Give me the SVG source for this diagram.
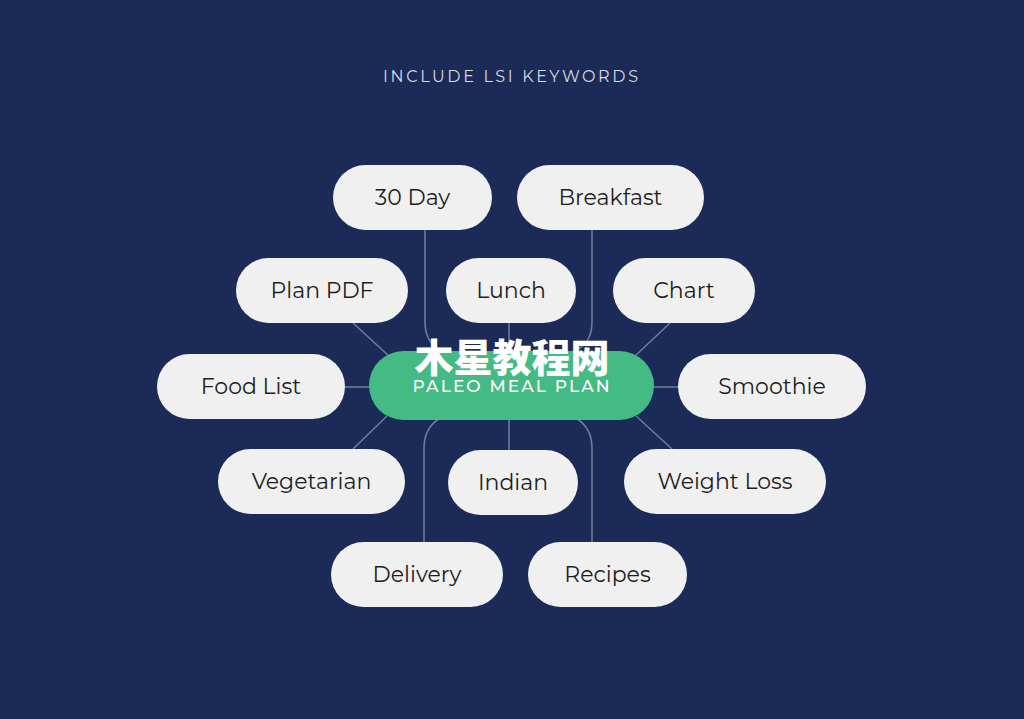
<svg xmlns="http://www.w3.org/2000/svg" width="1024" height="719" viewBox="0 0 1024 719">
<style>
.bg{fill:#1B2A56}
.pill{fill:#F0F0F0}
.lbl{font-family:"Montserrat","Open Sans","Liberation Sans",sans-serif;font-size:22px;fill:#1E1E1E;text-anchor:middle}
.con{fill:none;stroke:#6E7A96;stroke-width:1.6}
.title{font-family:"Montserrat","Open Sans","Liberation Sans",sans-serif;font-size:16px;fill:#D6DAE4;text-anchor:middle;letter-spacing:1px}
.ctext{font-family:"Montserrat","Open Sans","Liberation Sans",sans-serif;font-size:17px;font-weight:500;fill:#FFFFFF;text-anchor:middle;letter-spacing:1px}
.wm{font-family:"Noto Sans CJK SC",sans-serif;font-weight:900;font-size:39px;fill:#FFFFFF;text-anchor:middle}
</style>
<rect class="bg" x="0" y="0" width="1024" height="719"/>
<text class="title" x="511" y="82" textLength="256" lengthAdjust="spacing">INCLUDE LSI KEYWORDS</text>
<g id="connectors">
<path class="con" d="M425 230 V322 Q425 345 445 352"/>
<path class="con" d="M592 230 V322 Q592 345 572 352"/>
<path class="con" d="M509 323 V352"/>
<path class="con" d="M353 323 L390 357"/>
<path class="con" d="M670 323 L634 357"/>
<path class="con" d="M345 387 H370"/>
<path class="con" d="M653 387 H679"/>
<path class="con" d="M387 416 L353 449"/>
<path class="con" d="M636 416 L672 449"/>
<path class="con" d="M509 418 V451"/>
<path class="con" d="M440 418 Q424 428 424 448 V542"/>
<path class="con" d="M576 418 Q592 428 592 448 V542"/>
</g>
<g id="n-30day"><rect class="pill" x="333" y="165" width="159" height="65" rx="32.5"/><text class="lbl" x="412.5" y="205">30 Day</text></g>
<g id="n-breakfast"><rect class="pill" x="517" y="165" width="187" height="65" rx="32.5"/><text class="lbl" x="610.5" y="205">Breakfast</text></g>
<g id="n-planpdf"><rect class="pill" x="236" y="258" width="172" height="65" rx="32.5"/><text class="lbl" x="322" y="298">Plan PDF</text></g>
<g id="n-lunch"><rect class="pill" x="446" y="258" width="130" height="65" rx="32.5"/><text class="lbl" x="511" y="298">Lunch</text></g>
<g id="n-chart"><rect class="pill" x="613" y="258" width="142" height="65" rx="32.5"/><text class="lbl" x="684" y="298">Chart</text></g>
<g id="n-foodlist"><rect class="pill" x="157" y="354" width="188" height="65" rx="32.5"/><text class="lbl" x="251" y="394">Food List</text></g>
<g id="n-center"><rect fill="#44BA84" x="369" y="351" width="285" height="69" rx="34.5"/><text class="ctext" x="511.5" y="392" textLength="198" lengthAdjust="spacing">PALEO MEAL PLAN</text></g>
<g id="n-smoothie"><rect class="pill" x="678" y="354" width="188" height="65" rx="32.5"/><text class="lbl" x="772" y="394">Smoothie</text></g>
<g id="n-vegetarian"><rect class="pill" x="218" y="449" width="187" height="65" rx="32.5"/><text class="lbl" x="311.5" y="489">Vegetarian</text></g>
<g id="n-indian"><rect class="pill" x="448" y="450" width="130" height="65" rx="32.5"/><text class="lbl" x="513" y="490">Indian</text></g>
<g id="n-weightloss"><rect class="pill" x="624" y="449" width="202" height="65" rx="32.5"/><text class="lbl" x="725" y="489">Weight Loss</text></g>
<g id="n-delivery"><rect class="pill" x="331" y="542" width="172" height="65" rx="32.5"/><text class="lbl" x="417" y="582">Delivery</text></g>
<g id="n-recipes"><rect class="pill" x="528" y="542" width="159" height="65" rx="32.5"/><text class="lbl" x="607.5" y="582">Recipes</text></g>
<text class="wm" x="512" y="372">木星教程网</text>
</svg>
